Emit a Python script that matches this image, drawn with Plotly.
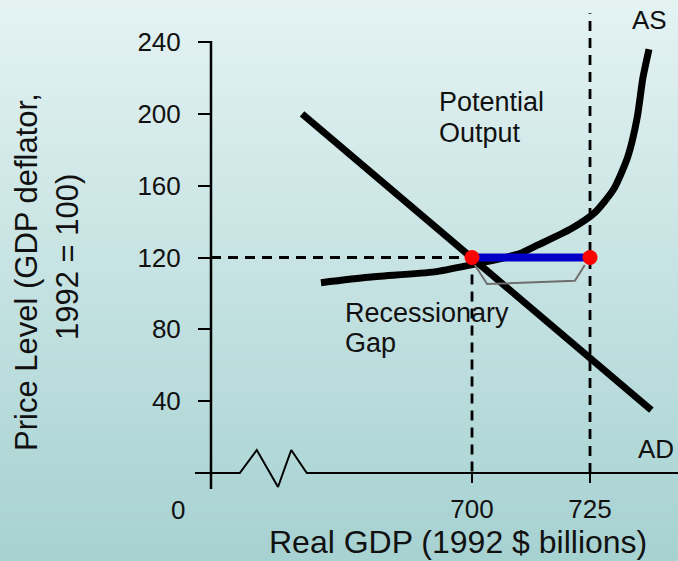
import plotly.graph_objects as go

# ---- data -------------------------------------------------------------
# Aggregate demand (straight line) and aggregate supply (curve)
ad_gdp = [664, 738]
ad_price = [200, 35]

as_gdp = [668, 678, 692, 699, 710, 714, 721, 726, 730, 733, 735, 736.2, 737.5]
as_price = [106, 109, 112, 115.5, 122, 127, 136, 145, 158, 176, 198, 220, 236]

equilibrium_gdp = 700
potential_gdp = 725
equilibrium_price = 120

# bracket under the recessionary gap
gap_bracket_gdp = [700.6, 703.2, 721.8, 723.9]
gap_bracket_price = [115.8, 105.2, 107.0, 115.8]

price_ticks = [40, 80, 120, 160, 200, 240]
price_tick_labels = ["40", "80", "120", "160", "200", "240"]
gdp_ticks = [700, 725]
gdp_tick_labels = ["700", "725"]

# broken horizontal axis (zig-zag marks the break from 0)
x_axis_gdp = [641.3, 650.8, 654.4, 658.9, 661.7, 665.0, 743.64]
x_axis_price = [0, 0, 12.8, -7.8, 12.8, 0, 0]
y_axis_gdp = [644.7, 644.7]
y_axis_price = [-8.9, 240.6]
potential_top_price = 256

X_RANGE = [600, 743.64]
Y_RANGE = [-49.0, 263.4]

FONT = "Liberation Sans, Arial, sans-serif"
INK = "#111111"

fig = go.Figure()

# dashed guide lines
dash_style = dict(color="black", width=2.8, dash="10px,7px")
fig.add_trace(go.Scatter(x=[y_axis_gdp[0], equilibrium_gdp], y=[equilibrium_price, equilibrium_price],
                         mode="lines", line=dash_style, hoverinfo="skip"))
fig.add_trace(go.Scatter(x=[equilibrium_gdp, equilibrium_gdp], y=[equilibrium_price, 0],
                         mode="lines", line=dash_style, hoverinfo="skip"))
fig.add_trace(go.Scatter(x=[potential_gdp, potential_gdp], y=[0, potential_top_price],
                         mode="lines", line=dash_style, hoverinfo="skip"))

# axes lines
fig.add_trace(go.Scatter(x=x_axis_gdp, y=x_axis_price, mode="lines",
                         line=dict(color="black", width=2), hoverinfo="skip"))
fig.add_trace(go.Scatter(x=y_axis_gdp, y=y_axis_price, mode="lines",
                         line=dict(color="black", width=2.5), hoverinfo="skip"))

# AS and AD curves
fig.add_trace(go.Scatter(x=as_gdp, y=as_price, mode="lines",
                         line=dict(color="black", width=7, shape="spline", smoothing=0.6),
                         name="AS"))
fig.add_trace(go.Scatter(x=ad_gdp, y=ad_price, mode="lines",
                         line=dict(color="black", width=7), name="AD"))

# recessionary gap bracket and bar
fig.add_trace(go.Scatter(x=gap_bracket_gdp, y=gap_bracket_price, mode="lines",
                         line=dict(color="#6e6e6e", width=2), hoverinfo="skip"))
fig.add_trace(go.Scatter(x=[equilibrium_gdp, potential_gdp],
                         y=[equilibrium_price, equilibrium_price], mode="lines",
                         line=dict(color="#0000c8", width=8), hoverinfo="skip"))
fig.add_trace(go.Scatter(x=[equilibrium_gdp, potential_gdp],
                         y=[equilibrium_price, equilibrium_price], mode="markers",
                         marker=dict(color="#ff0000", size=15), cliponaxis=False))

# vertical background gradient
top_rgb = (228, 242, 242)
bottom_rgb = (167, 210, 210)
n_bands = 80
shapes = []
for i in range(n_bands):
    t = i / (n_bands - 1)
    r, g, b = (round(top_rgb[k] + (bottom_rgb[k] - top_rgb[k]) * t) for k in range(3))
    y1 = 1 - i / n_bands
    y0 = 1 - (i + 1) / n_bands - 0.002
    shapes.append(dict(type="rect", xref="paper", yref="paper", x0=0, x1=1, y0=y0, y1=y1,
                       fillcolor=f"rgb({r},{g},{b})", line=dict(width=0), layer="below"))

def label(text, x, y, size=27, xanchor="left", **kw):
    return dict(text=text, x=x, y=y, xref="x", yref="y", showarrow=False,
                xanchor=xanchor, yanchor="middle",
                font=dict(family=FONT, size=size, color=INK), **kw)

annotations = [
    label("AS", 737.7, 252.3, size=26, xanchor="center"),
    label("AD", 739.0, 13.4, size=26, xanchor="center"),
    label("Potential", 692.6, 206.6),
    label("Output", 692.6, 189.3),
    label("Recessionary", 672.6, 89.1),
    label("Gap", 672.6, 72.4),
    label("0", 637.7, -20.6, size=26, xanchor="center"),
    dict(text="Real GDP (1992 $ billions)", x=457.5 / 678, y=(561 - 541.5) / 561,
         xref="paper", yref="paper", showarrow=False, xanchor="center", yanchor="middle",
         font=dict(family=FONT, size=32, color=INK)),
    dict(text="Price Level (GDP deflator,", x=26 / 678, y=(561 - 272) / 561,
         xref="paper", yref="paper", showarrow=False, xanchor="center", yanchor="middle",
         textangle=-90, font=dict(family=FONT, size=31, color=INK)),
    dict(text="1992 = 100)", x=67 / 678, y=(561 - 257) / 561,
         xref="paper", yref="paper", showarrow=False, xanchor="center", yanchor="middle",
         textangle=-90, font=dict(family=FONT, size=31, color=INK)),
]

fig.update_layout(
    width=678, height=561,
    margin=dict(l=0, r=0, t=0, b=0),
    paper_bgcolor="rgb(200,226,226)",
    plot_bgcolor="rgba(0,0,0,0)",
    showlegend=False,
    shapes=shapes,
    annotations=annotations,
    xaxis=dict(range=X_RANGE, domain=[0, 1], anchor="free", position=88 / 561,
               showgrid=False, zeroline=False, showline=False,
               tickmode="array", tickvals=gdp_ticks, ticktext=gdp_tick_labels,
               ticks="outside", ticklen=9, tickwidth=2, tickcolor="black",
               tickfont=dict(family=FONT, size=26, color=INK),
               ticklabelstandoff=4, automargin=False, fixedrange=True),
    yaxis=dict(range=Y_RANGE, domain=[0, 1], anchor="free", position=211 / 678,
               showgrid=False, zeroline=False, showline=False,
               tickmode="array", tickvals=price_ticks, ticktext=price_tick_labels,
               ticks="outside", ticklen=13, tickwidth=2, tickcolor="black",
               tickfont=dict(family=FONT, size=26, color=INK),
               ticklabelstandoff=12, automargin=False, fixedrange=True),
)

fig.write_html("out.html")
